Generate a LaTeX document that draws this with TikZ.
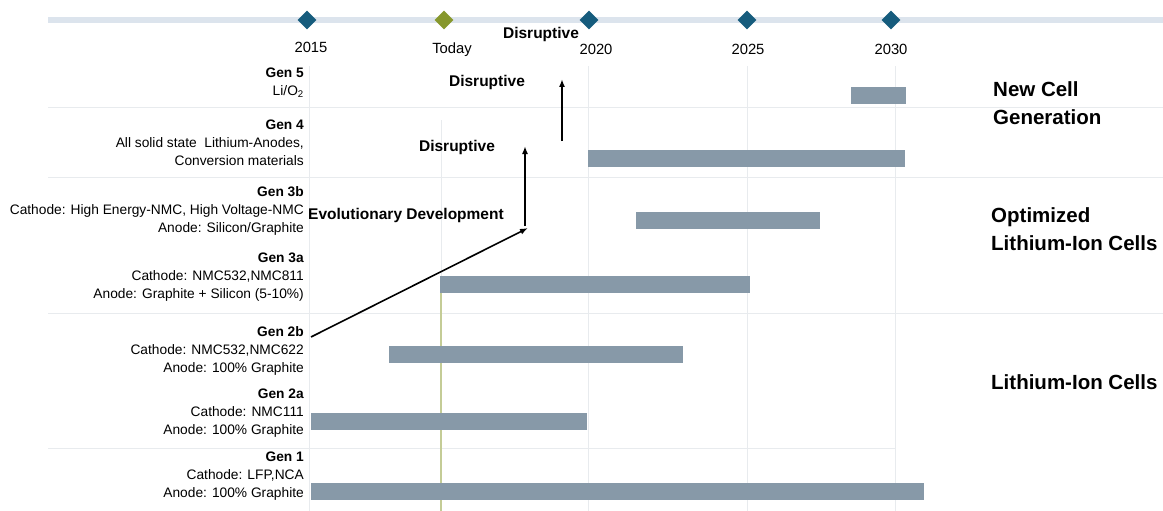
\documentclass[tikz,border=0pt]{standalone}
\usepackage{fontspec}
\setmainfont{Liberation Sans}
\usetikzlibrary{shapes.geometric,arrows.meta}
\definecolor{bandgrey}{RGB}{220,228,237}
\definecolor{marknavy}{RGB}{22,92,125}
\definecolor{markolive}{RGB}{135,152,45}
\definecolor{barslate}{RGB}{135,153,168}
\definecolor{gridgrey}{RGB}{232,235,238}
\definecolor{todayline}{RGB}{196,204,150}

\begin{document}
\begin{tikzpicture}[x=1pt, y=-1pt,
  every node/.style={font=\fontsize{13.75}{18.2}\selectfont, inner sep=0pt},
  milestone/.style={diamond, fill=marknavy, minimum width=19pt, minimum height=19pt},
  year/.style={font=\fontsize{14.8}{17}\selectfont},
  genlabel/.style={anchor=east, align=right},
  bar/.style={fill=barslate, anchor=west, minimum height=17pt},
  group/.style={anchor=west, align=left, font=\fontsize{20.5}{28}\selectfont\bfseries},
  note/.style={font=\fontsize{15.5}{18}\selectfont\bfseries},
  trend/.style={-{Latex[length=8pt,width=6pt]}, line width=1.6pt}]
\useasboundingbox (0,0) rectangle (1163,511);

% Grid
\draw[gridgrey, line width=1pt] (48,108) -- (1163,108);
\draw[gridgrey, line width=1pt] (48,177) -- (1163,177);
\draw[gridgrey, line width=1pt] (48,313) -- (1163,313);
\draw[gridgrey, line width=1pt] (48,448) -- (895,448);
\foreach \gx in {309,588,747,895}
  \draw[gridgrey, line width=1pt] (\gx,66) -- (\gx,511);
\draw[gridgrey, line width=1pt] (441,120) -- (441,276);
\draw[todayline, line width=1.2pt] (441,293) -- (441,511);

% Timeline
\draw[bandgrey, line width=6pt] (48,20) -- (1163,20);
\node[milestone] (d2015) at (307,20) {};
\node[milestone, fill=markolive] (dtoday) at (444,20) {};
\node[milestone] (d2020) at (589,20) {};
\node[milestone] (d2025) at (747,20) {};
\node[milestone] (d2030) at (891,20) {};
\node[year] (y2015) at (311,47) {2015};
\node[year] (ytoday) at (452,50) {Today};
\node[year] (y2020) at (596,49) {2020};
\node[year] (y2025) at (748,49) {2025};
\node[year] (y2030) at (891,49) {2030};

% Generations
\node[genlabel] (g5) at (304,83) {\textbf{Gen 5}\\Li/O\textsubscript{2}};
\node[genlabel] (g4) at (304,143) {\textbf{Gen 4}\\All solid state\ \ Lithium-Anodes,\\Conversion materials};
\node[genlabel] (g3b) at (304,211) {\textbf{Gen 3b}\\Cathode: High Energy-NMC, High Voltage-NMC\\Anode: Silicon/Graphite};
\node[genlabel] (g3a) at (304,277) {\textbf{Gen 3a}\\Cathode: NMC532,NMC811\\Anode: Graphite + Silicon (5-10\%)};
\node[genlabel] (g2b) at (304,351) {\textbf{Gen 2b}\\Cathode: NMC532,NMC622\\Anode: 100\% Graphite};
\node[genlabel] (g2a) at (304,413) {\textbf{Gen 2a}\\Cathode: NMC111\\Anode: 100\% Graphite};
\node[genlabel] (g1) at (304,476) {\textbf{Gen 1}\\Cathode: LFP,NCA\\Anode: 100\% Graphite};

% Bars
\node[bar, minimum width=55pt] (b5) at (851,95.5) {};
\node[bar, minimum width=317pt] (b4) at (588,158.5) {};
\node[bar, minimum width=184pt] (b3b) at (636,220.5) {};
\node[bar, minimum width=310pt] (b3a) at (440,284.5) {};
\node[bar, minimum width=294pt] (b2b) at (389,354.5) {};
\node[bar, minimum width=276pt] (b2a) at (311,421.5) {};
\node[bar, minimum width=613pt] (b1) at (311,491.5) {};

% Groups
\node[group] (newcell) at (993,103) {New Cell\\Generation};
\node[group] (optimized) at (991,229) {Optimized\\Lithium-Ion Cells};
\node[group] (liion) at (991,382) {Lithium-Ion Cells};

% Steps
\coordinate (evostart) at (311,337);
\coordinate (evotip) at (528,228);
\coordinate (dis1foot) at (525,226);
\coordinate (dis1tip) at (525,146);
\coordinate (dis2foot) at (562,141);
\coordinate (dis2tip) at (562,79);
\draw[trend] (evostart) -- (evotip);
\draw[trend] (dis1foot) -- (dis1tip);
\draw[trend] (dis2foot) -- (dis2tip);
\node[note] (evo) at (406,215) {Evolutionary Development};
\node[note] (dis1) at (457,147) {Disruptive};
\node[note] (dis2) at (487,82) {Disruptive};
\node[note] (dis3) at (541,34) {Disruptive};
\end{tikzpicture}
\end{document}
